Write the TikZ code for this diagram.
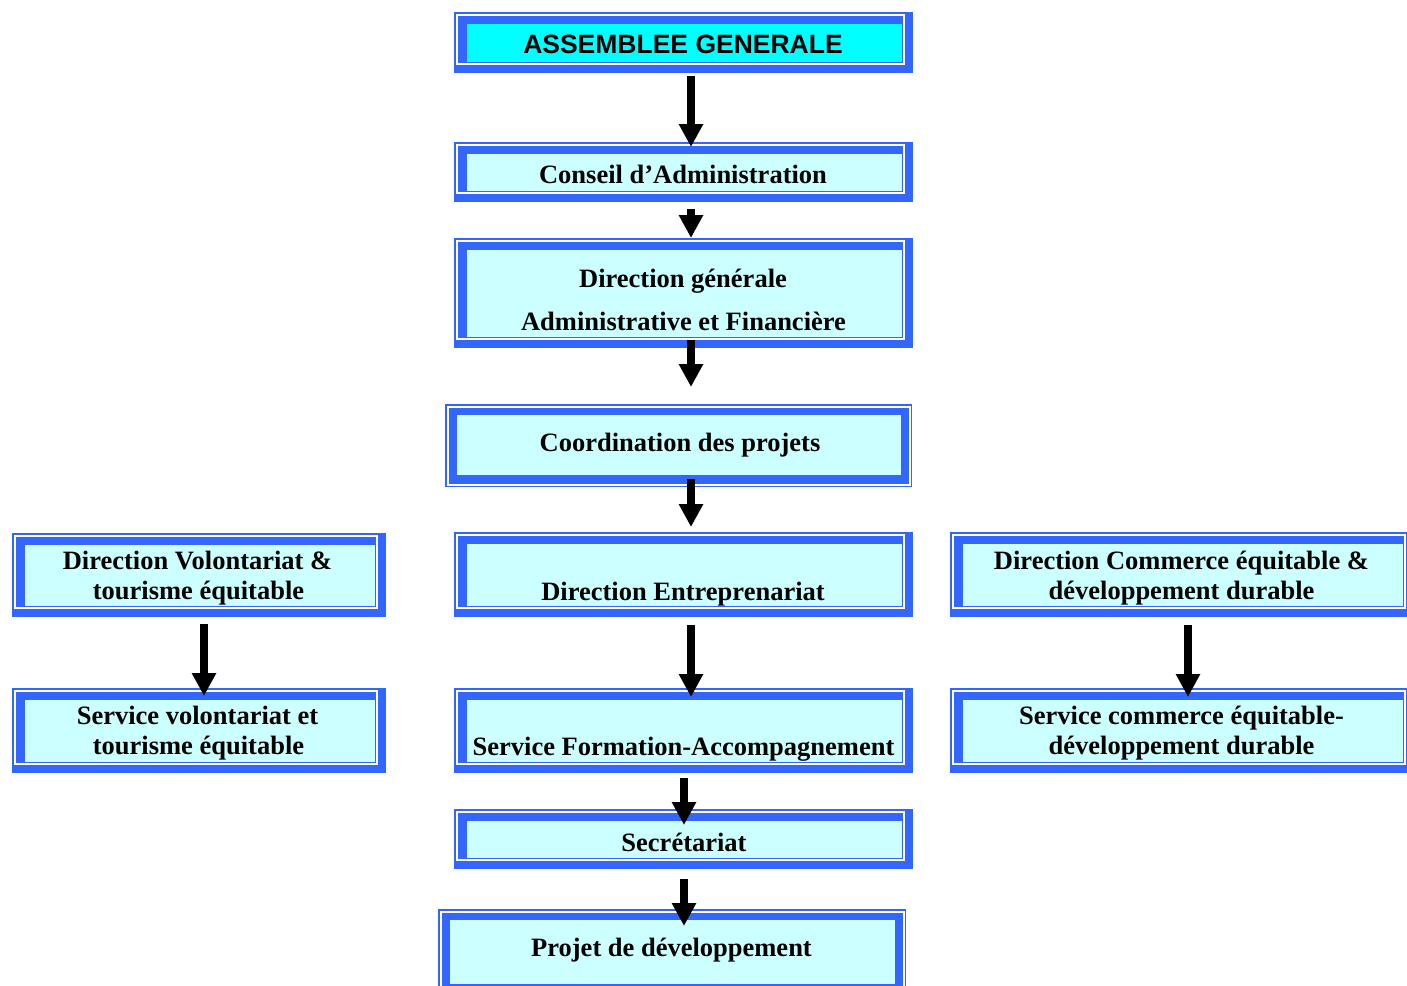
\documentclass[tikz,border=0pt]{standalone}
\usepackage{fontspec}
\setmainfont{Liberation Serif}
\newfontfamily\arialfont{Liberation Sans}
\usetikzlibrary{arrows.meta,calc,fit}
\definecolor{bordblue}{RGB}{51,102,255}
\definecolor{boxcyan}{RGB}{204,255,255}
\definecolor{aquafill}{RGB}{0,255,255}

\tikzset{
  outerbox/.style={fill=bordblue, draw=none, inner sep=0pt, outer sep=0pt},
  txt/.style={anchor=base, inner sep=0pt, font=\bfseries\fontsize{13.25pt}{15pt}\selectfont},
  arr/.style={line width=4pt, black, -{Triangle[width=11.5pt,length=11.5pt]}},
}

% thick-thin border with shadow
\newcommand\orgboxA[6]{%
  \node[outerbox, fit={(#2,#3)(#4,#5)}] (#1) {};
  \draw[white, line width=0.75pt] ($(#1.north west)+(3,3)$) rectangle ($(#1.south east)+(-9,-9)$);
  \fill[#6] ($(#1.north west)+(13,12)$) rectangle ($(#1.south east)+(-11,-11)$);
}
% thin-thick border
\newcommand\orgboxB[6]{%
  \node[outerbox, fit={(#2,#3)(#4,#5)}] (#1) {};
  \fill[white] ($(#1.north west)+(1.5,1.5)$) rectangle ($(#1.south east)+(-1.5,-1.5)$);
  \fill[bordblue] ($(#1.north west)+(3.5,3.5)$) rectangle ($(#1.south east)+(-3.5,-3.5)$);
  \fill[#6] ($(#1.north west)+(12,11)$) rectangle ($(#1.south east)+(-11,-12)$);
}

\begin{document}
\begin{tikzpicture}[x=0.5pt, y=-0.5pt]
\useasboundingbox (0,0) rectangle (1407,985);
\clip (0,0) rectangle (1407,985);

% boxes
\orgboxA{ag}{454}{12}{913}{73}{aquafill}
\orgboxA{ca}{454}{142}{913}{202}{boxcyan}
\orgboxA{dg}{454}{238}{913}{348}{boxcyan}
\orgboxB{cp}{445}{404}{912}{487}{boxcyan}
\orgboxA{dv}{12}{533}{386}{617}{boxcyan}
\orgboxA{de}{454}{532}{913}{617}{boxcyan}
\orgboxA{dc}{950}{532}{1414}{617}{boxcyan}
\orgboxA{sv}{12}{688}{386}{773}{boxcyan}
\orgboxA{sf}{454}{688}{913}{773}{boxcyan}
\orgboxA{sc}{950}{688}{1414}{773}{boxcyan}
\orgboxA{se}{454}{809}{913}{869}{boxcyan}
\orgboxB{pd}{438}{909}{906}{996}{boxcyan}

% arrows
\draw[arr] ([xshift=3.75pt,yshift=-1.5pt]ag.south) -- ([xshift=3.75pt,yshift=-2.5pt]ca.north);
\draw[arr] ([xshift=3.75pt,yshift=-3.5pt]ca.south) -- ([xshift=3.75pt]dg.north);
\draw[arr] ([xshift=3.75pt,yshift=4pt]dg.south) -- ([xshift=6.25pt,yshift=8.5pt]cp.north);
\draw[arr] ([xshift=6.25pt,yshift=4pt]cp.south) -- ([xshift=3.75pt,yshift=2.5pt]de.north);
\draw[arr] ([xshift=3.75pt,yshift=-4pt]de.south) -- ([xshift=3.75pt,yshift=-4.5pt]sf.north);
\draw[arr] ([xshift=0.25pt,yshift=-2.5pt]sf.south) -- ([xshift=0.25pt,yshift=-8pt]se.north);
\draw[arr] ([xshift=0.25pt,yshift=-5pt]se.south) -- ([xshift=6pt,yshift=-8.5pt]pd.north);
\draw[arr] ([xshift=2.5pt,yshift=-3.5pt]dv.south) -- ([xshift=2.5pt,yshift=-4pt]sv.north);
\draw[arr] ([xshift=3pt,yshift=-4pt]dc.south) -- ([xshift=3pt,yshift=-4.5pt]sc.north);

% texts
\node[txt, font=\arialfont\bfseries\fontsize{13.25pt}{15pt}\selectfont] (tag) at (683,53) {ASSEMBLEE GENERALE};
\node[txt] (tca) at (683,183) {Conseil d’Administration};
\node[txt] (tdg1) at (683,287) {Direction générale};
\node[txt] (tdg2) at (683.5,330) {Administrative et Financière};
\node[txt] (tcp) at (680,451) {Coordination des projets};
\node[txt] (tdv1) at (197.5,569) {Direction Volontariat \&};
\node[txt] (tdv2) at (198.5,599) {tourisme équitable};
\node[txt] (tde) at (683,600) {Direction Entreprenariat};
\node[txt] (tdc1) at (1181.5,569) {Direction Commerce équitable \&};
\node[txt] (tdc2) at (1181.5,599) {développement durable};
\node[txt] (tsv1) at (197.5,724) {Service volontariat et};
\node[txt] (tsv2) at (198.5,754) {tourisme équitable};
\node[txt] (tsf) at (683.5,755) {Service Formation-Accompagnement};
\node[txt] (tsc1) at (1181.5,724) {Service commerce équitable-};
\node[txt] (tsc2) at (1181.5,754) {développement durable};
\node[txt] (tse) at (684,851) {Secrétariat};
\node[txt] (tpd) at (671.5,956) {Projet de développement};
\end{tikzpicture}
\end{document}
